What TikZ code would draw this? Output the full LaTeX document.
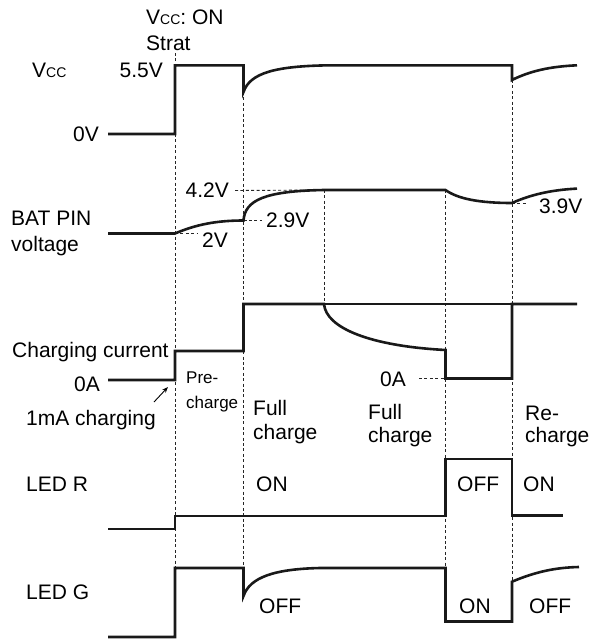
\documentclass[tikz,border=0pt]{standalone}
\usepackage{fontspec}
\setmainfont{Liberation Sans}
\usetikzlibrary{arrows.meta}
\newcommand{\vccsym}{V{\fontsize{14}{14}\selectfont CC}}

\begin{document}
\begin{tikzpicture}[
  x=1pt,y=-1pt,
  >=Stealth,
  every node/.style={font=\fontsize{21}{24}\selectfont,inner sep=0pt},
  lbl/.style={anchor=base west},
  rlbl/.style={anchor=base east},
  small lbl/.style={anchor=base west,font=\fontsize{17}{20}\selectfont},
  trace/.style={line width=2.6pt,line join=miter,draw=black!90},
  thin trace/.style={line width=1.1pt,draw=black!90},
  guide/.style={line width=0.9pt,dash pattern=on 3pt off 2.4pt,draw=black!85},
  pointer/.style={line width=0.9pt,-{Stealth[length=6pt,width=4.5pt]}},
]
\useasboundingbox (0,0) rectangle (594,640);

% time marks
\coordinate (m1) at (175,53);
\coordinate (m2) at (243.5,92);
\coordinate (m3) at (324,190);
\coordinate (m4) at (445.5,190);
\coordinate (m5) at (512,80);

% dashed time marks
\draw[guide] (m1) -- (175,568);
\draw[guide] (m2) -- (243.5,568);
\draw[guide] (m3) -- (324,304);
\draw[guide] (m4) -- (445.5,568);
\draw[guide] (m5) -- (512,581.7);

% labels
\node[lbl] (vccon) at (146,24.5) {\vccsym: ON};
\node[lbl] (strat) at (146,50) {Strat};
\node[lbl] (vcc) at (32,77) {\vccsym};
\node[rlbl] (v55) at (163,77) {5.5V};
\node[rlbl] (v0) at (99,141.5) {0V};

\node[lbl] (bat) at (11,225.5) {BAT PIN};
\node[lbl] (batv) at (11,251) {voltage};
\node[rlbl] (v42) at (229,197.5) {4.2V};
\node[lbl] (v29) at (266,227.5) {2.9V};
\node[lbl] (v2) at (202,247) {2V};
\node[lbl] (v39) at (539,213) {3.9V};

\node[lbl] (ichg) at (12,357) {Charging current};
\node[rlbl] (a0) at (100,391.5) {0A};
\node[lbl] (a0r) at (380,386) {0A};
\node[lbl] (onema) at (26,425.5) {1mA charging};
\node[small lbl] (pre1) at (186,383.5) {Pre-};
\node[small lbl] (pre2) at (186,408.5) {charge};
\node[lbl] (full1) at (253,415) {Full};
\node[lbl] (full1b) at (253,439) {charge};
\node[lbl] (full2) at (368,419.5) {Full};
\node[lbl] (full2b) at (368,442) {charge};
\node[lbl] (re1) at (525,420) {Re-};
\node[lbl] (re1b) at (525,442) {charge};

\node[lbl] (ledr) at (26,491) {LED R};
\node[lbl] (ron1) at (256,491) {ON};
\node[lbl] (roff) at (457,491) {OFF};
\node[lbl] (ron2) at (523,491) {ON};

\node[lbl] (ledg) at (26,599.5) {LED G};
\node[lbl] (goff1) at (259,613) {OFF};
\node[lbl] (gon) at (459,613) {ON};
\node[lbl] (goff2) at (529,613) {OFF};

% level markers
\coordinate (p42) at (324,190);
\coordinate (p29) at (262,220.5);
\coordinate (p2) at (197,233.5);
\coordinate (p39) at (528,203);
\coordinate (pa0) at (445.5,378.5);
\draw[guide] ([xshift=6pt]v42.base east) ++(0,-7) -- (p42);
\draw[guide] (243.5,220.5) -- (p29);
\draw[guide] (175,233.5) -- (p2);
\draw[guide] (512,203) -- (p39);
\draw[guide] (419,378.5) -- (pa0);

% 1mA pointer
\coordinate (ptail) at (154,402);
\coordinate (phead) at (168,387);
\draw[pointer] (ptail) -- (phead);

% Vcc
\draw[trace] (108,134) -- (175,134) -- (175,65.3) -- (243.5,65.3) -- (m2)
  .. controls (250,73) and (275,66) .. (330,65.3) -- (512,65.3) -- (m5)
  .. controls (530,71) and (550,66.5) .. (577,65.3);

% BAT pin voltage
\draw[trace] (108,233.5) -- (175,233.5)
  .. controls (195,225) and (215,220.5) .. (243.5,220.5)
  .. controls (245,200) and (265,191) .. (m3) -- (m4)
  .. controls (458,199) and (480,203) .. (512,203)
  .. controls (530,195) and (550,190) .. (577,188.6);

% charging current
\draw[thin trace] (324,304) -- (512,304);
\draw[trace] (108,380) -- (175,380) -- (175,351) -- (243.5,351) -- (243.5,304) -- (324,304)
  .. controls (326,328) and (370,346) .. (445.5,350) -- (445.5,378.5) -- (512,378.5)
  -- (512,304) -- (577,304);

% LED R
\draw[trace] (108,529) -- (175,529) -- (175,516) -- (445.5,516) -- (445.5,459)
  -- (512,459) -- (512,515.5) -- (563,515.5);

% LED G
\draw[trace] (108,637) -- (175,637) -- (175,568) -- (243.5,568) -- (243.5,596)
  .. controls (250,577) and (275,569) .. (320,568) -- (445.5,568) -- (445.5,621.5)
  -- (512,621.5) -- (512,581.7) .. controls (535,572) and (555,567.5) .. (579,567);
\end{tikzpicture}
\end{document}
